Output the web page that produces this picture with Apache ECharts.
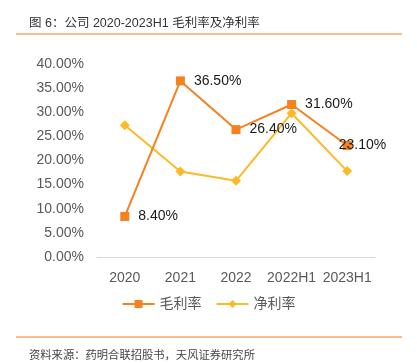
<!DOCTYPE html>
<html><head><meta charset="utf-8">
<script src="https://cdn.jsdelivr.net/npm/echarts@6/dist/echarts.min.js"></script>
<style>html,body{margin:0;padding:0;background:#fff}#c{width:417px;height:363px}</style>
</head><body><div id="c"></div>
<script>
const categories = ['2020', '2021', '2022', '2022H1', '2023H1'];
const grossMargin = [8.40, 36.50, 26.40, 31.60, 23.10];
const netMargin = [27.3, 17.7, 15.8, 29.8, 17.8];
const yTicks = [0, 5, 10, 15, 20, 25, 30, 35, 40];
const titleText = '图 6：公司 2020-2023H1 毛利率及净利率';
const sourceText = '资料来源：药明合联招股书，天风证券研究所';

const FONT = '"Liberation Sans", "Noto Sans CJK SC", sans-serif';
const chart = echarts.init(document.getElementById('c'), null, {renderer: 'canvas'});
const grossData = grossMargin.map((v, i) => i === grossMargin.length - 1
  ? {value: v, label: {offset: [-22, 0]}} : v);
chart.setOption({
  animation: false,
  textStyle: {fontFamily: FONT},
  title: [
    {text: titleText, left: 24, top: 12, textStyle: {fontSize: 12.5, fontWeight: 'normal', color: '#333', fontFamily: FONT}},
    {text: sourceText, left: 24, top: 345, textStyle: {fontSize: 11.3, fontWeight: 'normal', color: '#444', fontFamily: FONT}}
  ],
  graphic: [
    {type: 'line', shape: {x1: 16, y1: 34, x2: 402, y2: 34}, style: {stroke: '#F5A66A', lineWidth: 1.5}},
    {type: 'line', shape: {x1: 16, y1: 337, x2: 402, y2: 337}, style: {stroke: '#F5A66A', lineWidth: 1.5}}
  ],
  grid: {left: 97, right: 42, top: 64, bottom: 106},
  legend: {
    bottom: 47, left: 'center', itemWidth: 32, itemHeight: 10, itemGap: 14,
    textStyle: {fontSize: 14, color: '#595959', fontFamily: FONT},
    data: ['毛利率', '净利率']
  },
  xAxis: {
    type: 'category', data: categories,
    axisLine: {lineStyle: {color: '#D9D9D9'}}, axisTick: {show: false},
    axisLabel: {fontSize: 14, color: '#595959', margin: 14, interval: 0, hideOverlap: false}
  },
  yAxis: {
    type: 'value', min: yTicks[0], max: yTicks[yTicks.length - 1], interval: 5,
    axisLine: {show: false}, axisTick: {show: false}, splitLine: {show: false},
    axisLabel: {fontSize: 14, color: '#595959', margin: 13, formatter: v => v.toFixed(2) + '%'}
  },
  series: [
    {
      name: '毛利率', type: 'line', data: grossData, z: 3,
      symbol: 'rect', symbolSize: 9,
      lineStyle: {color: '#F5821F', width: 2}, itemStyle: {color: '#F5821F'},
      label: {show: true, position: 'right', distance: 9, fontSize: 14, color: '#1a1a1a',
        formatter: p => p.value.toFixed(2) + '%'}
    },
    {
      name: '净利率', type: 'line', data: netMargin, z: 2,
      symbol: 'diamond', symbolSize: 10,
      lineStyle: {color: '#FBBA26', width: 2}, itemStyle: {color: '#FBBA26'}
    }
  ]
});
</script></body></html>
